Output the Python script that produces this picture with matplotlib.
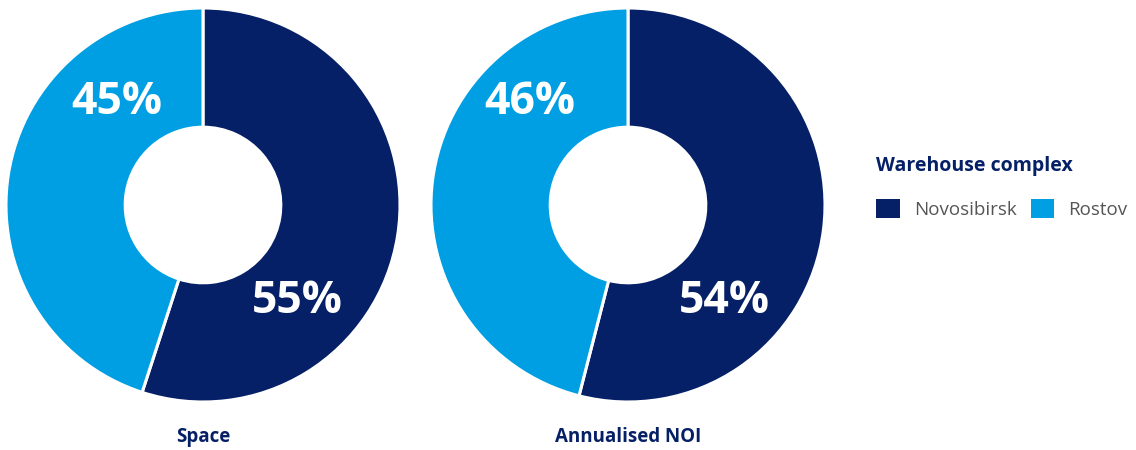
import matplotlib.pyplot as plt
from matplotlib.patches import Patch

series = ['Novosibirsk', 'Rostov']
space = [55, 45]
noi = [54, 46]
titles = ['Space', 'Annualised NOI']

navy = '#052066'
blue = '#009fe3'
colors = [navy, blue]

plt.rcParams['font.family'] = ['Open Sans', 'DejaVu Sans']

fig = plt.figure(figsize=(11.36, 4.5), dpi=100)

# label spots inside each ring (data units, ring radius = 1)
label_pos = [[(0.48, -0.49), (-0.44, 0.52)],
             [(0.49, -0.49), (-0.50, 0.52)]]

W, H = 1136, 450
for i, (vals, title) in enumerate(zip([space, noi], titles)):
    cx = 203 + i*425
    ax = fig.add_axes([(cx-197)/W, (450-402)/H, 394/W, 394/H])
    ax.pie(vals, colors=colors, startangle=90, counterclock=False,
           radius=1.0,
           wedgeprops=dict(width=0.605, edgecolor='white', linewidth=2.2))
    ax.set_xlim(-1, 1)
    ax.set_ylim(-1, 1)
    ax.set_aspect('equal')
    ax.axis('off')
    for v, (x, y) in zip(vals, label_pos[i]):
        ax.text(x, y, '{}%'.format(v), color='white', fontsize=32,
                fontweight='bold', ha='center', va='center')
    fig.text(cx/W, 1-437/H, title, color=navy, fontsize=13.5,
             fontweight='bold', ha='center', va='center')

handles = [Patch(facecolor=c, edgecolor='none') for c in colors]
leg = fig.legend(handles, series, loc='upper left',
                 bbox_to_anchor=(867/W, 1-147/H), ncol=2, frameon=False,
                 borderpad=0, fontsize=13.5, handlelength=1.25,
                 handleheight=1.25, handletextpad=0.75, columnspacing=0.75,
                 title='Warehouse complex', alignment='left')
leg._legend_box.sep = 16
leg.get_title().set_fontsize(14)
leg.get_title().set_fontweight('bold')
leg.get_title().set_color(navy)
for t in leg.get_texts():
    t.set_color('#555555')

fig.savefig('out.png', dpi=100)
